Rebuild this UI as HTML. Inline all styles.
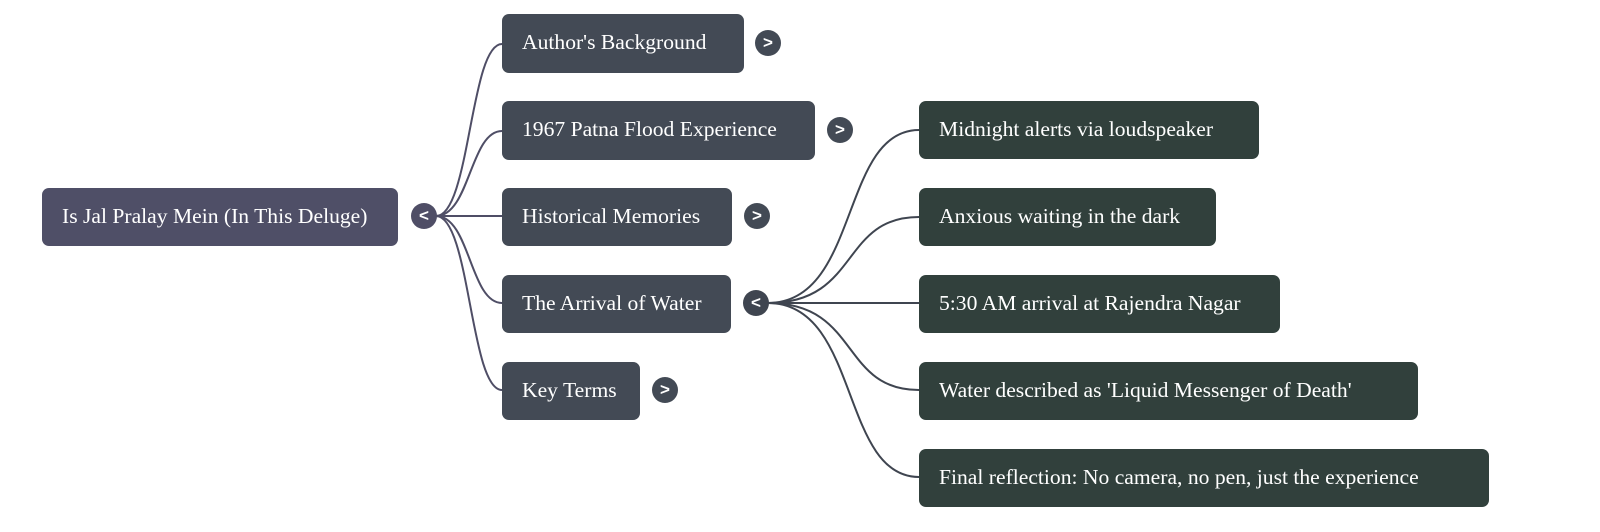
<!DOCTYPE html>
<html><head><style>
body{margin:0;width:1600px;height:532px;background:#fff;position:relative;overflow:hidden;font-family:"Liberation Serif",serif;}
.b{position:absolute;box-sizing:border-box;color:#fff;font-size:21.6px;line-height:56px;padding-left:20px;border-radius:7px;white-space:nowrap}
.r{background:#4f4f67}.l{background:#434a55}.k{background:#31403c}
.c{position:absolute;width:26px;height:26px;border-radius:50%;color:#fff;font:bold 17px/25px "Liberation Sans",sans-serif;text-align:center}
svg{position:absolute;left:0;top:0}
</style></head><body>
<svg width="1600" height="532" fill="none" stroke-width="2">
<g stroke="#4f4e66">
<path d="M436 216 C470 216 470 44 502 44"/>
<path d="M436 216 C470 216 470 131 502 131"/>
<path d="M436 216 L502 216"/>
<path d="M436 216 C470 216 470 303 502 303"/>
<path d="M436 216 C470 216 470 390 502 390"/>
</g>
<g stroke="#3f4550">
<path d="M768 303 C860 303 840 130 919 130"/>
<path d="M768 303 C860 303 840 217 919 217"/>
<path d="M768 303 L919 303"/>
<path d="M768 303 C860 303 840 390 919 390"/>
<path d="M768 303 C860 303 840 477 919 477"/>
</g>
</svg>
<div class="b r" style="left:42px;top:188px;width:356px;height:58px">Is Jal Pralay Mein (In This Deluge)</div>
<div class="c" style="left:411px;top:203px;background:#4f4e66">&lt;</div>
<div class="b l" style="left:502px;top:14px;width:242px;height:59px">Author's Background</div>
<div class="c" style="left:755px;top:30px;background:#434a55">&gt;</div>
<div class="b l" style="left:502px;top:101px;width:313px;height:59px">1967 Patna Flood Experience</div>
<div class="c" style="left:827px;top:117px;background:#434a55">&gt;</div>
<div class="b l" style="left:502px;top:188px;width:230px;height:58px">Historical Memories</div>
<div class="c" style="left:744px;top:203px;background:#434a55">&gt;</div>
<div class="b l" style="left:502px;top:275px;width:229px;height:58px">The Arrival of Water</div>
<div class="c" style="left:743px;top:290px;background:#3f4550">&lt;</div>
<div class="b l" style="left:502px;top:362px;width:138px;height:58px">Key Terms</div>
<div class="c" style="left:652px;top:377px;background:#434a55">&gt;</div>
<div class="b k" style="left:919px;top:101px;width:340px;height:58px">Midnight alerts via loudspeaker</div>
<div class="b k" style="left:919px;top:188px;width:297px;height:58px">Anxious waiting in the dark</div>
<div class="b k" style="left:919px;top:275px;width:361px;height:58px">5:30 AM arrival at Rajendra Nagar</div>
<div class="b k" style="left:919px;top:362px;width:499px;height:58px">Water described as 'Liquid Messenger of Death'</div>
<div class="b k" style="left:919px;top:449px;width:570px;height:58px">Final reflection: No camera, no pen, just the experience</div>
</body></html>
